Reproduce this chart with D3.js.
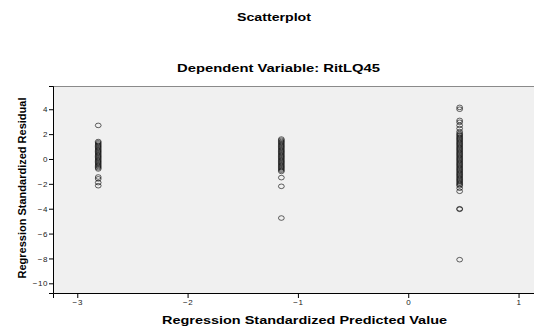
<!DOCTYPE html>
<html>
<head>
<meta charset="utf-8">
<script src="https://cdn.jsdelivr.net/npm/d3@7"></script>
<style>
  body { margin: 0; background: #fff; }
  svg { display: block; font-family: "Liberation Sans", Arial, sans-serif; }
</style>
</head>
<body>
<svg width="534" height="326"></svg>
<script>
const width = 534, height = 326;
const svg = d3.select("svg");

// predicted value for each group (x) and its standardized residuals (y)
const groupPredicted = [-2.81, -1.15, 0.466];
const residualsA = [2.7, 1.4, 1.3, 1.2, 1.1, 1.0, 0.9, 0.8, 0.7, 0.6, 0.5, 0.4, 0.3, 0.2, 0.1, 0.0,
  -0.1, -0.2, -0.3, -0.4, -0.5, -0.6, -0.7, -0.8, -1.45, -1.6, -1.9, -2.15];
const residualsB = [1.6, 1.5, 1.4, 1.3, 1.2, 1.1, 1.0, 0.9, 0.8, 0.7, 0.6, 0.5, 0.4, 0.3, 0.2, 0.1, 0.0,
  -0.1, -0.2, -0.3, -0.4, -0.5, -0.6, -0.7, -0.8, -0.9, -1.0, -1.5, -2.2, -4.75];
const residualsC = [4.15, 4.0, 3.1, 2.95, 2.7, 2.45, 2.2, 2.05, 1.95, 1.85, 1.75, 1.65, 1.55, 1.45, 1.35,
  1.25, 1.15, 1.05, 0.95, 0.85, 0.75, 0.65, 0.55, 0.45, 0.35, 0.25, 0.15, 0.05, -0.05, -0.15, -0.25,
  -0.35, -0.45, -0.55, -0.65, -0.75, -0.85, -0.95, -1.05, -1.15, -1.25, -1.35, -1.45, -1.55, -1.65,
  -1.75, -1.85, -1.95, -2.05, -2.15, -2.35, -2.6, -4.0, -4.05, -8.1];
const residualGroups = [residualsA, residualsB, residualsC];

const xTicks = [-3, -2, -1, 0, 1];
const yTicks = [4, 2, 0, -2, -4, -6, -8, -10];

const margin = {top: 86, right: 0, bottom: 33, left: 53};
const x = d3.scaleLinear().domain([-3.22, 1.14]).range([margin.left, width - margin.right]);
const y = d3.scaleLinear().domain([-10.78, 5.87]).range([height - margin.bottom, margin.top]);

const points = [];
groupPredicted.forEach((p, i) => residualGroups[i].forEach(r => points.push({x: p, y: r})));

// plot background
svg.append("rect")
  .attr("x", margin.left).attr("y", margin.top)
  .attr("width", width - margin.left - margin.right)
  .attr("height", height - margin.bottom - margin.top)
  .attr("fill", "#f0f0f0");
svg.append("line")
  .attr("x1", margin.left).attr("x2", width)
  .attr("y1", margin.top + 0.5).attr("y2", margin.top + 0.5)
  .attr("stroke", "#8a8a8a");

// the original text is stretched sideways, so fix the widths
function label(txt, cx, cy, len, size) {
  return svg.append("text").attr("x", cx - len / 2).attr("y", cy)
    .attr("font-weight", "bold").attr("font-size", size)
    .attr("textLength", len).attr("lengthAdjust", "spacingAndGlyphs")
    .text(txt);
}
label("Scatterplot", 274, 21, 74, 11);
label("Dependent Variable: RitLQ45", 278.5, 72, 203, 11.5);
label("Regression Standardized Predicted Value", 304.5, 324, 285, 11);

svg.append("text").attr("transform", "translate(26,188) rotate(-90)").attr("text-anchor", "middle")
  .attr("font-weight", "bold").attr("font-size", 11).text("Regression Standardized Residual");

// axes
const xAxis = svg.append("g")
  .attr("transform", `translate(0,${height - margin.bottom})`)
  .call(d3.axisBottom(x).tickValues(xTicks).tickSize(5).tickPadding(1).tickFormat(d3.format("d")));
const yAxis = svg.append("g")
  .attr("transform", `translate(${margin.left},0)`)
  .call(d3.axisLeft(y).tickValues(yTicks).tickSize(4).tickPadding(1).tickFormat(d3.format("d")));
[xAxis, yAxis].forEach(a => {
  a.select(".domain").attr("stroke", "#000");
  a.selectAll(".tick line").attr("stroke", "#000");
  a.selectAll("text").attr("font-size", 8).attr("fill", "#222")
    .attr("letter-spacing", 0.6).attr("font-family", "Liberation Sans, Arial, sans-serif");
});

// points
svg.append("g").selectAll("ellipse")
  .data(points)
  .enter()
  .append("ellipse")
  .attr("cx", d => x(d.x))
  .attr("cy", d => y(d.y))
  .attr("rx", 2.9).attr("ry", 2.3)
  .attr("fill", "none")
  .attr("stroke", "#000")
  .attr("stroke-opacity", 0.6)
  .attr("stroke-width", 1);
</script>
</body>
</html>
